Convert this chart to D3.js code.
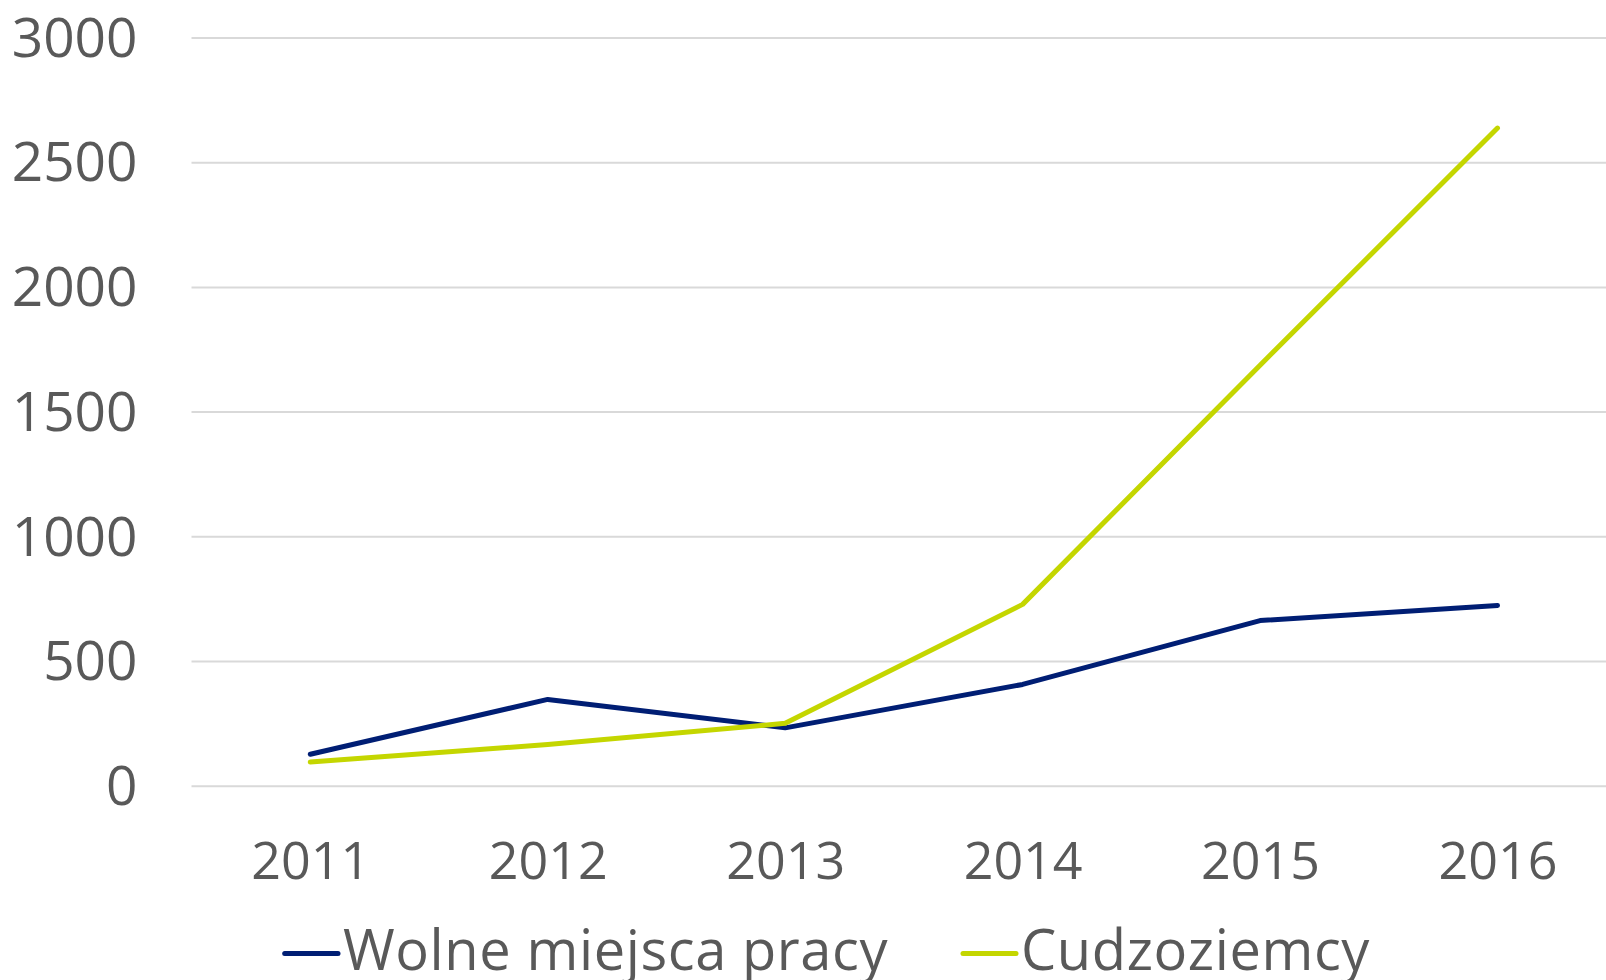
<!DOCTYPE html>
<html>
<head>
<meta charset="utf-8">
<script src="https://cdn.jsdelivr.net/npm/d3@7"></script>
<style>
  html, body { margin: 0; padding: 0; background: #ffffff; }
  svg { display: block; }
  text { font-family: "Open Sans", "Noto Sans", sans-serif; fill: #595959; }
</style>
</head>
<body>
<script>
const years = ["2011", "2012", "2013", "2014", "2015", "2016"];
const wolneMiejsca = [126, 346, 232, 406, 662, 723];
const cudzoziemcy = [95, 165, 250, 727, 1686, 2637];
const yTicks = [0, 500, 1000, 1500, 2000, 2500, 3000];
const seriesNames = ["Wolne miejsca pracy", "Cudzoziemcy"];
const seriesColors = ["#001E74", "#C4D600"];

const W = 1606, H = 980;
const plot = { left: 191.5, right: 1606, top: 37.5, bottom: 785.7 };

const svg = d3.select("body").append("svg").attr("width", W).attr("height", H);

const x = d3.scalePoint().domain(years).range([310.3, 1497.5]);
const y = d3.scaleLinear().domain([0, 3000]).range([plot.bottom, plot.top]);

// grid + y labels
const yAxis = d3.axisLeft(y).tickValues(yTicks).tickFormat(d3.format("d"))
  .tickSize(-(plot.right - plot.left)).tickPadding(54);
const gy = svg.append("g").attr("transform", `translate(${plot.left},0)`).call(yAxis);
gy.select(".domain").remove();
gy.selectAll(".tick line").attr("stroke", "#D9D9D9").attr("stroke-width", 2);
gy.selectAll(".tick text").attr("font-size", 55).attr("fill", "#595959").attr("dy", "0.34em")
  .style("font-family", "'Open Sans', sans-serif");

// x axis labels
const xAxis = d3.axisBottom(x).tickSize(0).tickPadding(0);
const gx = svg.append("g").attr("transform", `translate(0,${plot.bottom})`).call(xAxis);
gx.select(".domain").remove();
gx.selectAll(".tick text").attr("font-size", 52).attr("fill", "#595959").attr("dy", "0").attr("y", 93)
  .style("font-family", "'Open Sans', sans-serif");

const line = d3.line().x((d, i) => x(years[i])).y(d => y(d));

[wolneMiejsca, cudzoziemcy].forEach((vals, k) => {
  svg.append("path").datum(vals)
    .attr("fill", "none")
    .attr("stroke", seriesColors[k])
    .attr("stroke-width", 5)
    .attr("stroke-linejoin", "round")
    .attr("stroke-linecap", "round")
    .attr("d", line);
});

// legend
const legendItems = [
  { x1: 284.7, x2: 338, tx: 343 },
  { x1: 963, x2: 1016, tx: 1021 }
];
const ly = 953.5;
legendItems.forEach((it, k) => {
  svg.append("line").attr("x1", it.x1).attr("x2", it.x2).attr("y1", ly).attr("y2", ly)
    .attr("stroke", seriesColors[k]).attr("stroke-width", 5).attr("stroke-linecap", "round");
  svg.append("text").attr("x", it.tx).attr("y", 970).attr("font-size", 56)
    .attr("letter-spacing", "0.6px")
    .attr("fill", "#595959").text(seriesNames[k]);
});
</script>
</body>
</html>
